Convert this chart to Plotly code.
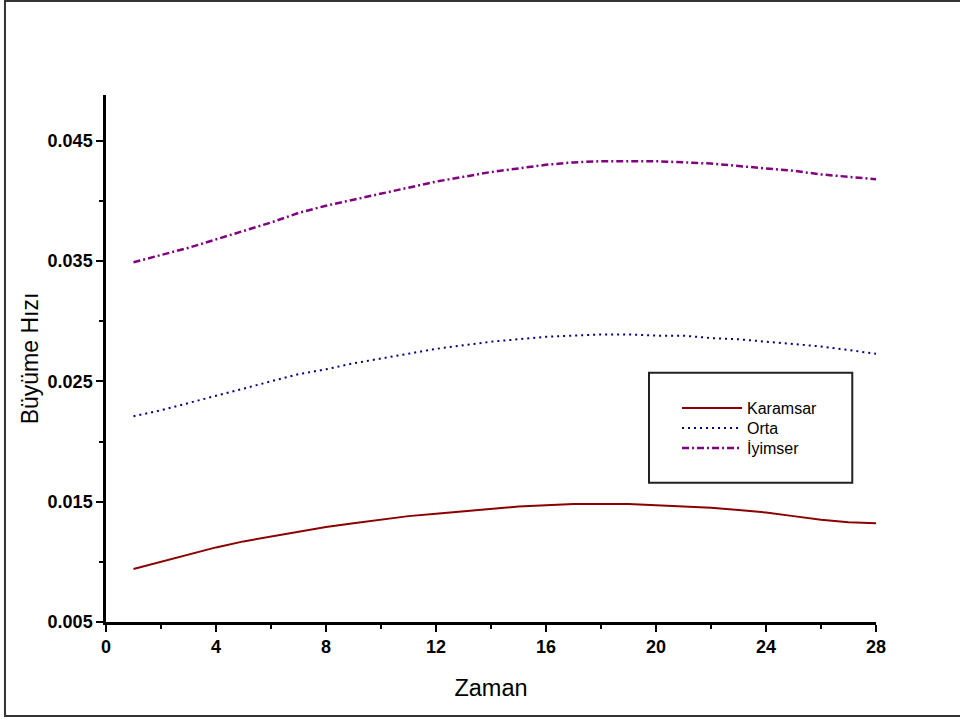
import plotly.graph_objects as go

zaman = list(range(1, 29))

karamsar = [0.0094, 0.0100, 0.0106, 0.0112, 0.0117, 0.0121, 0.0125, 0.0129,
            0.0132, 0.0135, 0.0138, 0.0140, 0.0142, 0.0144, 0.0146, 0.0147,
            0.0148, 0.0148, 0.0148, 0.0147, 0.0146, 0.0145, 0.0143, 0.0141,
            0.0138, 0.0135, 0.0133, 0.0132]

orta = [0.0221, 0.0226, 0.0232, 0.0238, 0.0244, 0.0250, 0.0256, 0.0260,
        0.0265, 0.0269, 0.0273, 0.0277, 0.0280, 0.0283, 0.0285, 0.0287,
        0.0288, 0.0289, 0.0289, 0.0288, 0.0288, 0.0286, 0.0285, 0.0283,
        0.0281, 0.0279, 0.0276, 0.0273]

iyimser = [0.0349, 0.0355, 0.0361, 0.0368, 0.0375, 0.0382, 0.0390, 0.0396,
           0.0401, 0.0406, 0.0411, 0.0416, 0.0420, 0.0424, 0.0427, 0.0430,
           0.0432, 0.0433, 0.0433, 0.0433, 0.0432, 0.0431, 0.0429, 0.0427,
           0.0425, 0.0422, 0.0420, 0.0418]

series_names = ["Karamsar", "Orta", "İyimser"]
x_ticks = [0, 4, 8, 12, 16, 20, 24, 28]
x_minor = [2, 6, 10, 14, 18, 22, 26]
y_ticks = [0.005, 0.015, 0.025, 0.035, 0.045]
y_tick_labels = ["0.005", "0.015", "0.025", "0.035", "0.045"]
y_minor = [0.010, 0.020, 0.030, 0.040]

FONT = "Liberation Sans, Arial, sans-serif"

fig = go.Figure()
fig.add_trace(go.Scatter(x=zaman, y=karamsar, mode="lines", name=series_names[0],
                         legend="legend",
                         line=dict(color="#8B0000", width=2, dash="solid")))
fig.add_trace(go.Scatter(x=zaman, y=orta, mode="lines", name=series_names[1],
                         legend="legend2",
                         line=dict(color="#000080", width=2, dash="2px,4px")))
fig.add_trace(go.Scatter(x=zaman, y=iyimser, mode="lines", name=series_names[2],
                         legend="legend3",
                         line=dict(color="#800080", width=2.5, dash="7px,3px,2px,3px")))


def legend_cfg(ypos):
    return dict(x=0.7416, y=ypos, xanchor="left", yanchor="middle",
                bgcolor="rgba(0,0,0,0)", borderwidth=0,
                font=dict(size=16, family=FONT), itemwidth=60)


fig.update_layout(
    width=960, height=720,
    margin=dict(l=106, r=84, t=95, b=98),
    paper_bgcolor="white", plot_bgcolor="white",
    font=dict(family=FONT, color="black"),
    showlegend=True,
    legend=legend_cfg(0.4061),
    legend2=legend_cfg(0.3681),
    legend3=legend_cfg(0.3302),
    xaxis=dict(range=[0, 28], tickvals=x_ticks, ticks="outside", ticklen=7,
               tickwidth=2, tickcolor="black", showline=True, linecolor="black",
               linewidth=2.5, showgrid=False, zeroline=False,
               tickfont=dict(size=18, family=FONT, weight="bold"),
               minor=dict(tickvals=x_minor, ticks="outside",
                          ticklen=4, tickwidth=1.5, tickcolor="black", showgrid=False),
               title=dict(text="Zaman", font=dict(size=23.5, family=FONT), standoff=24)),
    yaxis=dict(range=[0.005, 0.0488], tickvals=y_ticks, ticktext=y_tick_labels,
               ticks="outside", ticklen=7, tickwidth=2, tickcolor="black",
               showline=True, linecolor="black", linewidth=2.5, showgrid=False,
               zeroline=False,
               tickfont=dict(size=18, family=FONT, weight="bold"),
               minor=dict(tickvals=y_minor, ticks="outside",
                          ticklen=4, tickwidth=1.5, tickcolor="black", showgrid=False),
               title=dict(text="Büyüme Hızı", font=dict(size=23, family=FONT), standoff=3)),
)

# outer frame
fig.add_shape(type="rect", xref="paper", yref="paper",
              x0=-0.1312, x1=1.112, y0=-0.1784, y1=1.1784,
              line=dict(color="#333333", width=2), fillcolor="rgba(0,0,0,0)", layer="below")
# legend box
fig.add_shape(type="rect", xref="paper", yref="paper",
              x0=0.7052, x1=0.9692, y0=0.2643, y1=0.4731,
              line=dict(color="#222222", width=2), fillcolor="white", layer="below")

fig.write_html("out.html", config={"displayModeBar": False},
               post_script="document.body.style.margin='0';")
